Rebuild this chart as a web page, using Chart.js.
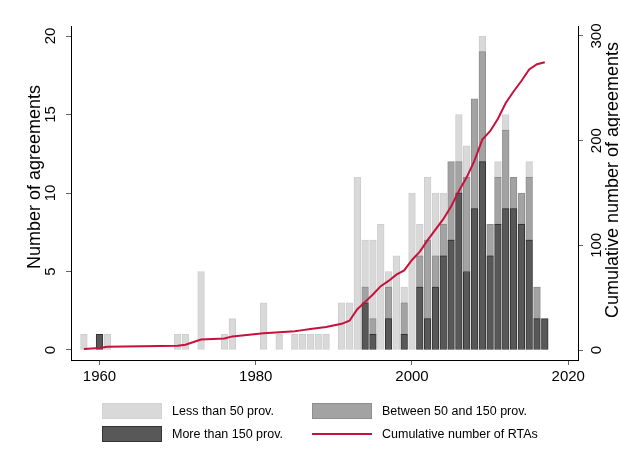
<!DOCTYPE html>
<html><head><meta charset="utf-8">
<script src="https://cdn.jsdelivr.net/npm/chart.js@4.4.1/dist/chart.umd.min.js"></script>
<style>
html,body{margin:0;padding:0;background:#fff;}
#wrap{position:relative;width:620px;height:465px;overflow:hidden;}
canvas{position:absolute;left:0;top:0;}
.lg{position:absolute;font-family:"Liberation Sans",Arial,Helvetica,sans-serif;font-size:12.5px;color:#000;white-space:nowrap;line-height:16px;}
.sw{position:absolute;box-sizing:border-box;}
</style></head><body>
<div id="wrap"><canvas id="c" width="620" height="465"></canvas>
<div class="sw" style="left:102px;top:403px;width:60px;height:16px;background:#d9d9d9;border:1px solid #d2d2d2"></div>
<div class="lg" style="left:172px;top:403px">Less than 50 prov.</div>
<div class="sw" style="left:312px;top:403px;width:60px;height:16px;background:#a3a3a3;border:1px solid #8e8e8e"></div>
<div class="lg" style="left:382px;top:403px">Between 50 and 150 prov.</div>
<div class="sw" style="left:102px;top:426px;width:60px;height:16px;background:#585858;border:1px solid #333"></div>
<div class="lg" style="left:172px;top:426px">More than 150 prov.</div>
<div class="sw" style="left:312px;top:433px;width:60px;height:2px;background:#c8103c"></div>
<div class="lg" style="left:382px;top:426px">Cumulative number of RTAs</div>
</div>
<script>
const years = [1958,1960,1961,1970,1971,1973,1976,1977,1981,1983,1985,1986,1987,1988,1989,1991,1992,1993,
  1994,1995,1996,1997,1998,1999,2000,2001,2002,2003,2004,2005,2006,2007,2008,2009,2010,2011,2012,2013,2014,2015,2016,2017];
const lessThan50 = [1,0,1,1,1,5,1,2,3,1,1,1,1,1,1,3,3,11,
  3,5,8,1,6,1,10,2,4,4,2,0,3,2,0,1,0,1,1,0,0,1,0,0];
const between50and150 = [0,0,0,0,0,0,0,0,0,0,0,0,0,0,0,0,0,0,
  1,1,0,2,0,2,0,2,5,2,2,5,2,6,7,7,2,3,5,2,2,4,2,0];
const moreThan150 = [0,1,0,0,0,0,0,0,0,0,0,0,0,0,0,0,0,0,
  3,1,0,2,0,1,0,4,2,4,6,7,10,5,9,12,6,8,9,9,8,7,2,2];
const cumulativeRTAs = [1,2,3,4,5,10,11,13,16,17,18,19,20,21,22,25,28,39,
  46,53,61,66,72,76,86,94,105,115,125,137,152,165,181,201,209,221,236,247,257,268,273,275];
const xTicks = [1960,1980,2000,2020];
const leftTicks = [0,5,10,15,20];
const rightTicks = [0,100,200,300];
const leftTitle = 'Number of agreements';
const rightTitle = 'Cumulative number of agreements';

const FAM = '"Liberation Sans", Arial, Helvetica, sans-serif';
const pts = arr => years.map((x,i)=>({x:x, y:arr[i]})).filter(p=>p.y>0);
const setTicks = list => s => { s.ticks = list.map(v=>({value:v})); };
const gridOpt = {display:true, drawOnChartArea:false, drawTicks:true, tickLength:5, color:'#666', lineWidth:1, offset:false};
const borderOpt = {display:true, color:'#000', width:1};

const axisTitles = {
  id:'axisTitles',
  afterDraw(chart){
    const ctx = chart.ctx;
    ctx.save();
    ctx.font = '18px ' + FAM;
    ctx.fillStyle = '#000';
    ctx.textAlign = 'center';
    ctx.textBaseline = 'middle';
    ctx.save(); ctx.translate(35, 177); ctx.rotate(-Math.PI/2); ctx.fillText(leftTitle, 0, 0); ctx.restore();
    ctx.save(); ctx.translate(613, 180); ctx.rotate(-Math.PI/2); ctx.fillText(rightTitle, 0, 0); ctx.restore();
    ctx.restore();
  }
};

new Chart(document.getElementById('c'), {
  data: {
    datasets: [
      {type:'line', label:'Cumulative number of RTAs', data: years.map((x,i)=>({x:x, y:cumulativeRTAs[i]})),
       yAxisID:'y2', borderColor:'#c8103c', borderWidth:2, pointRadius:0, tension:0, order:0, fill:false},
      {type:'bar', label:'More than 150 prov.', data: pts(moreThan150), yAxisID:'y', stack:'s',
       backgroundColor:'#585858', borderColor:'#333333', borderWidth:1, borderSkipped:false, barThickness:6.7, order:1},
      {type:'bar', label:'Between 50 and 150 prov.', data: pts(between50and150), yAxisID:'y', stack:'s',
       backgroundColor:'#a3a3a3', borderColor:'#8e8e8e', borderWidth:1, borderSkipped:false, barThickness:6.7, order:1},
      {type:'bar', label:'Less than 50 prov.', data: pts(lessThan50), yAxisID:'y', stack:'s',
       backgroundColor:'#d9d9d9', borderColor:'#cecece', borderWidth:1, borderSkipped:false, barThickness:6.7, order:1}
    ]
  },
  options: {
    responsive:false, animation:false, devicePixelRatio:1,
    layout:{padding:{top:26, left:0, right:0, bottom:0}},
    plugins:{legend:{display:false}, tooltip:{enabled:false}},
    scales:{
      x:{type:'linear', position:'bottom', min:1956.35, max:2021.25, stacked:true, offset:false,
         afterBuildTicks:setTicks(xTicks), afterFit:s=>{s.height=105;},
         grid:gridOpt, border:borderOpt,
         ticks:{font:{size:15, family:FAM}, color:'#000', padding:3, maxRotation:0, autoSkip:false, callback:v=>String(v)}},
      y:{type:'linear', position:'left', min:-0.637, max:20.637, stacked:true,
         afterBuildTicks:setTicks(leftTicks), afterFit:s=>{s.width=71;},
         grid:gridOpt, border:borderOpt,
         ticks:{font:{size:15, family:FAM}, color:'#000', minRotation:90, maxRotation:90, crossAlign:'center', padding:7, autoSkip:false, callback:v=>String(v)}},
      y2:{type:'linear', position:'right', min:-9.55, max:309.55,
         afterBuildTicks:setTicks(rightTicks), afterFit:s=>{s.width=42;},
         grid:gridOpt, border:borderOpt,
         ticks:{font:{size:15, family:FAM}, color:'#000', minRotation:90, maxRotation:90, crossAlign:'center', padding:1, autoSkip:false, callback:v=>String(v)}}
    }
  },
  plugins:[axisTitles]
});
</script>
</body></html>
